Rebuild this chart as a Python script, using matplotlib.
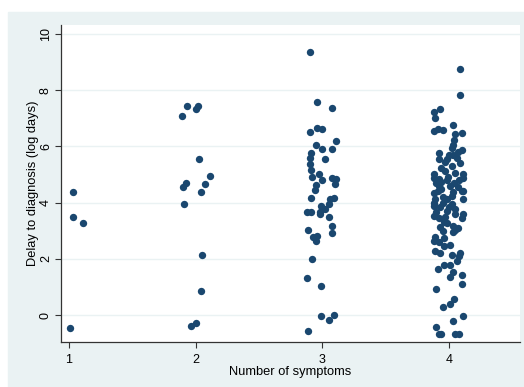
import matplotlib.pyplot as plt
from matplotlib.patches import Rectangle

# jittered strip plot: delay to diagnosis by number of symptoms
g1_x = [1.03, 1.03, 1.11, 1.01]
g1_y = [4.39, 3.49, 3.26, -0.46]

g2_x = [1.90, 1.92, 1.91, 2.11, 2.07, 2.04, 2.03, 2.05, 2.04, 1.96, 2.00,
        1.89, 1.93, 2.00, 2.02]
g2_y = [4.55, 4.71, 3.94, 4.94, 4.65, 4.39, 5.55, 2.12, 0.87, -0.38, -0.27,
        7.08, 7.44, 7.32, 7.45]

g3_x = [2.90, 2.96, 3.08, 2.90, 2.96, 3.00, 3.11, 2.95, 3.00, 3.08, 2.91,
        2.90, 3.02, 2.90, 2.91, 2.97, 2.92, 3.00, 3.08, 3.11, 2.95, 3.10,
        2.94, 2.91, 3.09, 3.06, 2.99, 3.05, 3.02, 2.98, 2.88, 2.91, 2.98,
        3.05, 3.08, 3.08, 2.89, 2.93, 2.96, 2.95, 2.92, 2.88, 2.99, 2.99,
        3.09, 3.05, 2.89]
g3_y = [9.35, 7.57, 7.38, 6.52, 6.67, 6.61, 6.19, 6.06, 5.91, 5.91, 5.75,
        5.58, 5.55, 5.36, 5.16, 5.01, 4.90, 4.80, 4.89, 4.84, 4.61, 4.65,
        4.44, 4.18, 4.16, 4.12, 3.89, 3.94, 3.76, 3.68, 3.65, 3.65, 3.61,
        3.50, 3.18, 2.91, 3.02, 2.76, 2.81, 2.63, 1.99, 1.30, 1.03, -0.02,
        -0.01, -0.17, -0.56]

g4_x = [4.09, 4.09, 3.93, 3.88, 3.89, 4.03, 3.88, 3.91, 3.95, 4.05, 4.10,
        4.04, 4.03, 4.02, 4.10, 3.92, 4.00, 3.98, 3.92, 3.97, 4.02, 3.94,
        3.97, 3.88, 4.05, 4.11, 3.88, 3.92, 3.98, 4.08, 4.11, 4.04, 3.92,
        4.07, 3.88, 3.94, 4.03, 4.10, 4.11, 3.95, 3.89, 3.98, 4.11, 3.88,
        4.02, 3.93, 3.88, 4.05, 3.98, 3.90, 4.05, 4.11, 3.88, 4.10, 3.92,
        3.98, 4.03, 3.93, 4.07, 4.05, 3.95, 4.03, 3.89, 3.96, 3.88, 3.92,
        4.01, 3.96, 3.89, 3.93, 4.09, 4.02, 4.08, 4.06, 3.96, 4.01, 3.91,
        4.03, 4.10, 4.01, 4.10, 3.90, 4.04, 4.01, 3.95, 4.11, 4.03, 3.90,
        3.92, 3.94, 4.05, 4.08,
        3.91, 3.95, 4.00, 3.97, 4.01, 4.06, 4.07, 4.03, 3.99, 3.90, 3.94,
        4.09, 3.96, 4.02]
g4_y = [8.75, 7.83, 7.33, 7.21, 7.00, 6.77, 6.55, 6.61, 6.60, 6.45, 6.46,
        6.23, 6.05, 5.93, 5.86, 5.78, 5.68, 5.56, 5.54, 5.44, 5.31, 5.23,
        5.12, 5.02, 5.04, 5.01, 4.86, 4.84, 4.80, 4.79, 4.86, 4.70, 4.60,
        4.56, 4.33, 4.48, 4.37, 4.40, 4.41, 4.21, 4.14, 4.12, 4.14, 3.97,
        3.95, 3.86, 3.89, 3.78, 3.69, 3.65, 3.58, 3.58, 3.51, 3.44, 3.44,
        3.26, 3.17, 3.14, 3.10, 3.02, 2.99, 2.95, 2.79, 2.73, 2.63, 2.59,
        2.49, 2.46, 2.29, 2.19, 2.19, 2.12, 2.10, 1.93, 1.78, 1.78, 1.65,
        1.54, 1.41, 1.34, 1.12, 0.93, 0.58, 0.39, 0.27, -0.04, -0.20, -0.42,
        -0.69, -0.69, -0.69, -0.69,
        4.40, 4.00, 3.85, 3.50, 4.60, 5.60, 5.80, 5.70, 4.90, 4.70, 4.75,
        5.40, 3.30, 4.25]

x_ticks = [1, 2, 3, 4]
y_ticks = [0, 2, 4, 6, 8, 10]

NAVY = "#1A476F"
BG = "#EAF2F3"

plt.rcParams["font.family"] = ["Liberation Sans", "DejaVu Sans"]

fig = plt.figure(figsize=(5.24, 3.87), dpi=100)
fig.patch.set_facecolor("white")
# stata-style graph region, drawn behind the axes
fig.add_artist(Rectangle((8 / 524, 0), 1 - 8 / 524, 1 - 12 / 387,
                         transform=fig.transFigure, color=BG, zorder=-10))

ax = fig.add_axes([61 / 524, 1 - 342 / 387, 459 / 524, 317 / 387])
ax.set_facecolor("white")

for xs, ys in [(g1_x, g1_y), (g2_x, g2_y), (g3_x, g3_y), (g4_x, g4_y)]:
    ax.scatter(xs, ys, s=28, color=NAVY, linewidths=0, zorder=3)

ax.set_xlim(0.937, 4.56)
ax.set_ylim(-0.96, 10.32)
ax.set_xticks(x_ticks)
ax.set_yticks(y_ticks)
ax.set_yticklabels([str(v) for v in y_ticks], rotation=90, va="center")
ax.grid(axis="y", color=BG, linewidth=1.0, zorder=1)
ax.tick_params(labelsize=9, length=4.5, width=0.8, color="#333333")
ax.tick_params(axis="x", pad=4)
ax.tick_params(axis="y", pad=2)

for side in ["top", "right"]:
    ax.spines[side].set_visible(False)
for side in ["left", "bottom"]:
    ax.spines[side].set_color("#333333")
    ax.spines[side].set_linewidth(0.9)

ax.set_xlabel("Number of symptoms", fontsize=9.3, labelpad=0)
ax.set_ylabel("Delay to diagnosis (log days)", fontsize=9.3, labelpad=1)

fig.savefig("out.png", dpi=100, facecolor=fig.get_facecolor())
